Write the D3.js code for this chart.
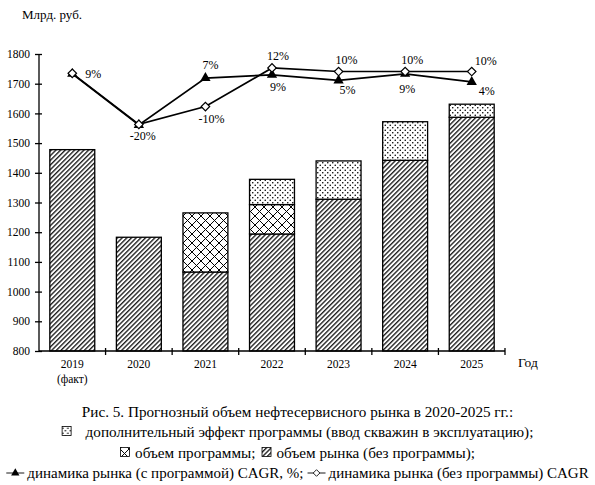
<!DOCTYPE html>
<html>
<head>
<meta charset="utf-8">
<script src="https://cdn.jsdelivr.net/npm/d3@7"></script>
<style>
  body { margin: 0; background: #fff; }
  text { font-family: "Liberation Serif", "Times New Roman", serif; fill: #000; }
</style>
</head>
<body>
<svg id="canvas"></svg>
<script>
var width = 595,
  height = 485,
  margin = {top: 54, right: 90, bottom: 134, left: 39},
  serif = '"Liberation Serif", "Times New Roman", serif';

// data, bln rub
var years = ['2019', '2020', '2021', '2022', '2023', '2024', '2025'];
var yearNotes = ['(факт)', '', '', '', '', '', ''];
var marketBase = [1478, 1183, 1066, 1194, 1311, 1442, 1587];
var programVolume = [0, 0, 199, 99, 0, 0, 0];
var extraEffect = [0, 0, 0, 85, 129, 130, 44];
// CAGR lines drawn on the same value axis
var lineWith = [1733, 1561, 1719, 1730, 1711, 1733, 1706];
var lineWithout = [1735, 1563, 1623, 1753, 1741, 1741, 1741];
var labelsWith = ['9%', '-20%', '7%', '9%', '5%', '9%', '4%'];
var labelsWithout = ['', '', '-10%', '12%', '10%', '10%', '10%'];
var yTicks = [800, 900, 1000, 1100, 1200, 1300, 1400, 1500, 1600, 1700, 1800];

var captionTitle = 'Рис. 5. Прогнозный объем нефтесервисного рынка в 2020-2025 гг.:';
var legendEffect = 'дополнительный эффект программы (ввод скважин в эксплуатацию);';
var legendProgram = 'объем программы;';
var legendMarket = 'объем рынка (без программы);';
var legendWith = 'динамика рынка (с программой) CAGR, %;';
var legendWithout = 'динамика рынка (без программы) CAGR';

function draw() {
  var svg, defs, g, x, y, innerW, innerH, stacks, layers;

  innerW = width - margin.left - margin.right;
  innerH = height - margin.top - margin.bottom;

  svg = d3.select('#canvas')
    .attr('width', width)
    .attr('height', height);

  // PATTERNS
  defs = svg.append('defs');

  defs.append('pattern')
    .attr('id', 'hatch')
    .attr('patternUnits', 'userSpaceOnUse')
    .attr('width', 3.3)
    .attr('height', 3.3)
    .attr('patternTransform', 'rotate(45)')
    .append('line')
    .attr('x1', 0.7).attr('y1', 0)
    .attr('x2', 0.7).attr('y2', 3.3)
    .attr('stroke', '#000')
    .attr('stroke-width', 1.2);

  var cross = defs.append('pattern')
    .attr('id', 'cross')
    .attr('patternUnits', 'userSpaceOnUse')
    .attr('width', 9)
    .attr('height', 9);
  cross.append('rect').attr('width', 9).attr('height', 9).attr('fill', '#fff');
  cross.append('path')
    .attr('d', 'M0,0 L9,9 M9,0 L0,9')
    .attr('stroke', '#000')
    .attr('stroke-width', 1);

  var dots = defs.append('pattern')
    .attr('id', 'dots')
    .attr('patternUnits', 'userSpaceOnUse')
    .attr('width', 5)
    .attr('height', 5);
  dots.append('rect').attr('width', 5).attr('height', 5).attr('fill', '#fff');
  dots.selectAll('circle')
    .data([[1.25, 1.25], [3.75, 3.75]])
    .enter()
    .append('circle')
    .attr('cx', function(d) { return d[0]; })
    .attr('cy', function(d) { return d[1]; })
    .attr('r', 0.8)
    .attr('fill', '#000');

  g = svg.append('g')
    .attr('transform', 'translate(' + margin.left + ',' + margin.top + ')');

  // SCALES
  x = d3.scaleBand()
    .domain(years)
    .range([0, innerW])
    .paddingInner(0.325)
    .paddingOuter(0.1625);

  y = d3.scaleLinear()
    .domain([800, 1800])
    .range([innerH, 0]);

  // BARS
  stacks = years.map(function(yr, i) {
    return {year: yr, base: marketBase[i], program: programVolume[i], effect: extraEffect[i]};
  });
  layers = d3.stack().keys(['base', 'program', 'effect'])(stacks);
  var fills = {base: 'url(#hatch)', program: 'url(#cross)', effect: 'url(#dots)'};

  g.selectAll('g.layer')
    .data(layers)
    .enter()
    .append('g')
    .attr('class', 'layer')
    .attr('fill', function(d) { return fills[d.key]; })
    .selectAll('rect')
    .data(function(d) { return d.filter(function(s) { return s[1] > s[0]; }); })
    .enter()
    .append('rect')
    .attr('x', function(d) { return x(d.data.year); })
    .attr('y', function(d) { return y(d[1]); })
    .attr('width', x.bandwidth())
    .attr('height', function(d) { return y(Math.max(d[0], 800)) - y(d[1]); })
    .attr('stroke', '#000')
    .attr('stroke-width', 1.3);

  // Y AXIS
  var yAxis = g.append('g')
    .call(d3.axisLeft(y).tickValues(yTicks).tickFormat(d3.format('d')).tickSize(4).tickPadding(5));
  yAxis.attr('font-family', serif);
  yAxis.select('.domain').attr('stroke-width', 1.3).attr('d', 'M0,' + innerH + 'V0');
  yAxis.selectAll('.tick line').attr('x1', 3).attr('stroke-width', 1.3);
  yAxis.selectAll('text')
    .style('font-size', '11.5px');

  // X AXIS
  var xAxis = g.append('g')
    .attr('transform', 'translate(0,' + innerH + ')');
  xAxis.append('line')
    .attr('x1', 0).attr('x2', innerW)
    .attr('stroke', '#000').attr('stroke-width', 1.3);
  xAxis.selectAll('line.tick')
    .data(d3.range(1, years.length + 1))
    .enter()
    .append('line')
    .attr('class', 'tick')
    .attr('x1', function(i) { return i * x.step(); })
    .attr('x2', function(i) { return i * x.step(); })
    .attr('y1', -3).attr('y2', 4)
    .attr('stroke', '#000').attr('stroke-width', 1.3);

  xAxis.selectAll('text.year')
    .data(years)
    .enter()
    .append('text')
    .attr('class', 'year')
    .attr('text-anchor', 'middle')
    .attr('x', function(d) { return x(d) + x.bandwidth() / 2; })
    .attr('y', 17)
    .style('font-size', '11.5px')
    .text(function(d) { return d; });

  xAxis.selectAll('text.note')
    .data(yearNotes)
    .enter()
    .append('text')
    .attr('class', 'note')
    .attr('text-anchor', 'middle')
    .attr('x', function(d, i) { return x(years[i]) + x.bandwidth() / 2; })
    .attr('y', 32)
    .style('font-size', '11.5px')
    .text(function(d) { return d; });

  g.append('text')
    .attr('x', innerW + 13)
    .attr('y', innerH + 16)
    .style('font-size', '13.5px')
    .text('Год');

  svg.append('text')
    .attr('x', 22)
    .attr('y', 19)
    .style('font-size', '13px')
    .text('Млрд. руб.');

  // LINES
  var cx = function(i) { return x(years[i]) + x.bandwidth() / 2; };
  var line = d3.line()
    .x(function(d, i) { return cx(i); })
    .y(function(d) { return y(d); });

  g.append('path')
    .datum(lineWith)
    .attr('d', line)
    .attr('fill', 'none')
    .attr('stroke', '#000')
    .attr('stroke-width', 1.7);

  g.append('path')
    .datum(lineWithout)
    .attr('d', line)
    .attr('fill', 'none')
    .attr('stroke', '#000')
    .attr('stroke-width', 1.7);

  var triangle = d3.symbol().type(d3.symbolTriangle).size(46);
  var diamond = d3.symbol().type(d3.symbolSquare).size(36);

  g.selectAll('path.tri')
    .data(lineWith)
    .enter()
    .append('path')
    .attr('class', 'tri')
    .attr('d', triangle)
    .attr('transform', function(d, i) { return 'translate(' + cx(i) + ',' + y(d) + ')'; })
    .attr('fill', '#000');

  g.selectAll('path.dia')
    .data(lineWithout)
    .enter()
    .append('path')
    .attr('class', 'dia')
    .attr('d', diamond)
    .attr('transform', function(d, i) { return 'translate(' + cx(i) + ',' + y(d) + ') rotate(45)'; })
    .attr('fill', '#fff')
    .attr('stroke', '#000')
    .attr('stroke-width', 1.2);

  // percent labels, offsets from the marker
  var offWith = [[21, 4], [4, 15], [5, -9], [6, 16], [9, 14], [2, 19], [15, 13]];
  var offWithout = [[0, 0], [0, 0], [6, 16], [6, -8], [8, -8], [7, -8], [14, -7]];

  g.selectAll('text.lw')
    .data(labelsWith)
    .enter()
    .append('text')
    .attr('class', 'lw')
    .attr('text-anchor', 'middle')
    .attr('x', function(d, i) { return cx(i) + offWith[i][0]; })
    .attr('y', function(d, i) { return y(lineWith[i]) + offWith[i][1]; })
    .style('font-size', '12px')
    .text(function(d) { return d; });

  g.selectAll('text.lo')
    .data(labelsWithout)
    .enter()
    .append('text')
    .attr('class', 'lo')
    .attr('text-anchor', 'middle')
    .attr('x', function(d, i) { return cx(i) + offWithout[i][0]; })
    .attr('y', function(d, i) { return y(lineWithout[i]) + offWithout[i][1]; })
    .style('font-size', '12px')
    .text(function(d) { return d; });

  // CAPTION
  var rows = [
    [{t: captionTitle}],
    [{box: 'dots'}, {gap: 14}, {t: legendEffect}],
    [{box: 'cross'}, {gap: 5}, {t: legendProgram}, {gap: 6}, {box: 'hatch'}, {gap: 5}, {t: legendMarket}],
    [{mark: 'tri'}, {gap: 3}, {t: legendWith}, {gap: 4}, {mark: 'dia'}, {gap: 3}, {t: legendWithout}]
  ];
  var rowY = [417, 437, 458, 478];
  var rowSize = ['15.2px', '15.2px', '15.2px', '15px'];

  rows.forEach(function(row, r) {
    var rowG = svg.append('g'), pos = 0;
    row.forEach(function(item) {
      if (item.t) {
        var t = rowG.append('text')
          .attr('x', pos)
          .attr('y', 0)
          .style('font-family', serif)
          .style('font-size', rowSize[r])
          .text(item.t);
        pos += t.node().getComputedTextLength();
      } else if (item.box) {
        rowG.append('rect')
          .attr('x', pos + 0.5)
          .attr('y', -10.5)
          .attr('width', 9)
          .attr('height', 9)
          .attr('fill', 'url(#' + item.box + ')')
          .attr('stroke', '#000')
          .attr('stroke-width', 0.8);
        pos += 10;
      } else if (item.mark) {
        rowG.append('line')
          .attr('x1', pos).attr('x2', pos + 18)
          .attr('y1', -5).attr('y2', -5)
          .attr('stroke', '#000').attr('stroke-width', 0.9);
        rowG.append('path')
          .attr('d', item.mark === 'tri' ? d3.symbol().type(d3.symbolTriangle).size(30)() :
            d3.symbol().type(d3.symbolSquare).size(22)())
          .attr('transform', 'translate(' + (pos + 9) + ',-5)' + (item.mark === 'dia' ? ' rotate(45)' : ''))
          .attr('fill', item.mark === 'tri' ? '#000' : '#fff')
          .attr('stroke', '#000')
          .attr('stroke-width', item.mark === 'tri' ? 0 : 0.8);
        pos += 18;
      } else {
        pos += item.gap;
      }
    });
    rowG.attr('transform', 'translate(' + Math.max(1, (width - pos) / 2) + ',' + rowY[r] + ')');
  });

  svg.selectAll('text').style('font-family', serif);
}

window.onload = draw;
</script>
</body>
</html>
